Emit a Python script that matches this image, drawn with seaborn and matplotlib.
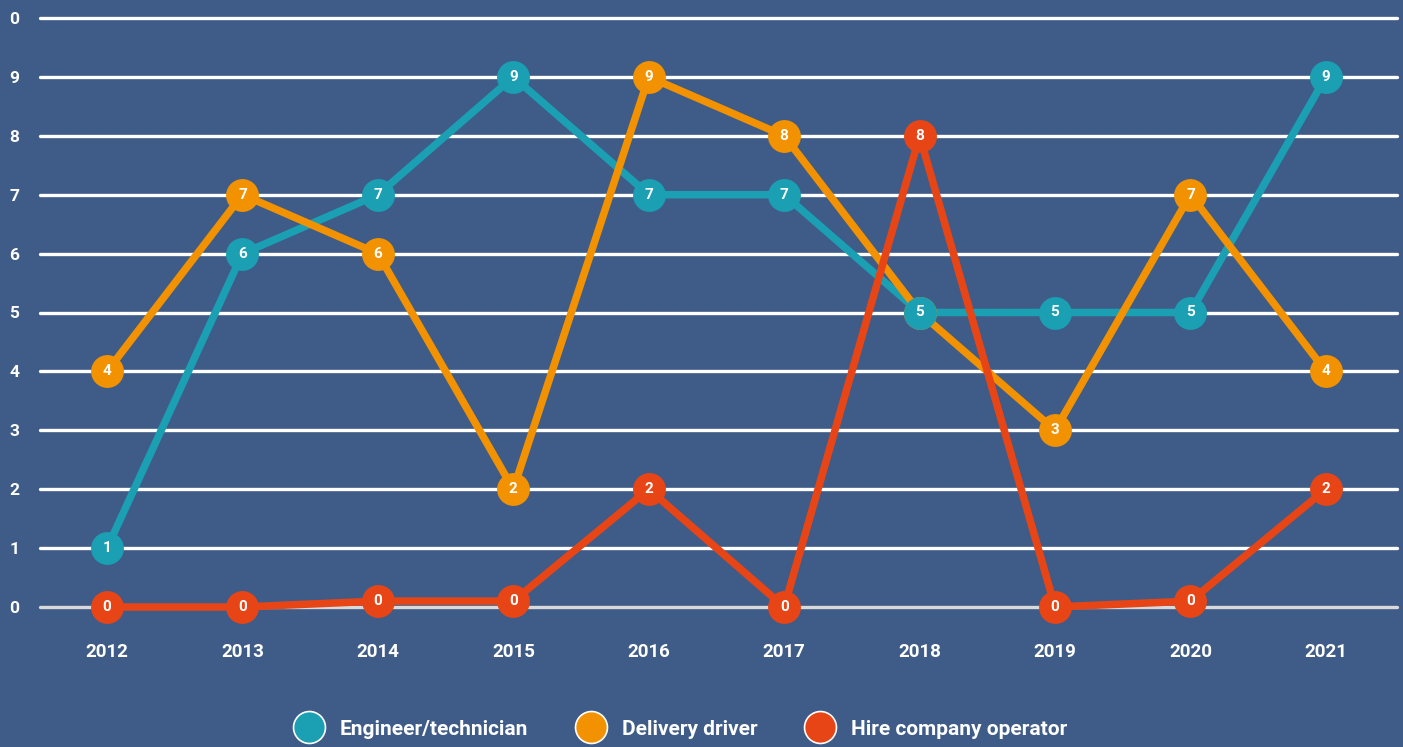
import matplotlib
matplotlib.use("Agg")
import matplotlib.pyplot as plt
from matplotlib.lines import Line2D
import seaborn as sns
import pandas as pd

years = ["2012", "2013", "2014", "2015", "2016", "2017", "2018", "2019", "2020", "2021"]
engineer = [1, 6, 7, 9, 7, 7, 5, 5, 5, 9]
delivery = [4, 7, 6, 2, 9, 8, 5, 3, 7, 4]
hire = [0, 0, 0.1, 0.1, 2, 0, 8, 0, 0.1, 2]
series_names = ["Engineer/technician", "Delivery driver", "Hire company operator"]
y_ticks = [0, 1, 2, 3, 4, 5, 6, 7, 8, 9, 10]
y_tick_labels = ["0", "1", "2", "3", "4", "5", "6", "7", "8", "9", "0"]

BG = "#3e5c87"
COLORS = ["#1a9fb3", "#f39200", "#e84516"]
FONT = ["Roboto", "DejaVu Sans"]

sns.set_style("white")
plt.rcParams["font.family"] = FONT

rows = []
for name, vals in zip(series_names, [engineer, delivery, hire]):
    for i, v in enumerate(vals):
        rows.append({"x": i, "value": v, "series": name})
df = pd.DataFrame(rows)
palette = dict(zip(series_names, COLORS))

fig = plt.figure(figsize=(14.03, 7.47), dpi=100, facecolor=BG)
ax = fig.add_axes([40 / 1403, 140 / 747, 1357 / 1403, 589 / 747])
ax.set_facecolor(BG)

# horizontal grid
for t in y_ticks:
    ax.axhline(t, color="#d9d9d9" if t == 0 else "white", lw=2.4, zorder=1)

# connecting lines
sns.lineplot(data=df, x="x", y="value", hue="series", hue_order=series_names,
             palette=palette, lw=5.4, legend=False, ax=ax, zorder=3)
for line in ax.lines:
    line.set_clip_on(False)

# point markers with value labels, drawn above every line
marker_order = ["Delivery driver", "Engineer/technician", "Hire company operator"]
for k, name in enumerate(marker_order):
    sub = df[df["series"] == name]
    sns.scatterplot(data=sub, x="x", y="value", color=palette[name], s=560,
                    linewidth=0, legend=False, ax=ax, zorder=4 + k)
    for _, r in sub.iterrows():
        ax.text(r["x"], r["value"], f"{r['value']:.0f}", color="white",
                fontsize=11, fontweight="bold", ha="center", va="center",
                zorder=4.5 + k, clip_on=False)
for coll in ax.collections:
    coll.set_clip_on(False)

ax.set_xlim(-0.495, 9.525)
ax.set_ylim(0, 10)
ax.set_xticks(range(len(years)))
ax.set_xticklabels(years)
ax.set_yticks(y_ticks)
ax.set_yticklabels(y_tick_labels)
ax.tick_params(axis="x", colors="white", labelsize=13.5, length=0, pad=26)
ax.tick_params(axis="y", colors="white", labelsize=12.5, length=0, pad=18.5)
for lab in ax.get_xticklabels() + ax.get_yticklabels():
    lab.set_fontweight("bold")
for lab in ax.get_yticklabels():
    lab.set_horizontalalignment("center")
ax.set_xlabel("")
ax.set_ylabel("")
for s in ax.spines.values():
    s.set_visible(False)

handles = [Line2D([], [], ls="none", marker="o", markersize=23, markerfacecolor=c,
                  markeredgecolor="white", markeredgewidth=1.2) for c in COLORS]
leg = fig.legend(handles, series_names, loc="center", bbox_to_anchor=(0.483, 0.024),
                 ncol=3, frameon=False, fontsize=15, handletextpad=0.5,
                 columnspacing=2.0, labelcolor="white")
for t in leg.get_texts():
    t.set_fontweight("bold")

fig.savefig("out.png", dpi=100, facecolor=BG)
